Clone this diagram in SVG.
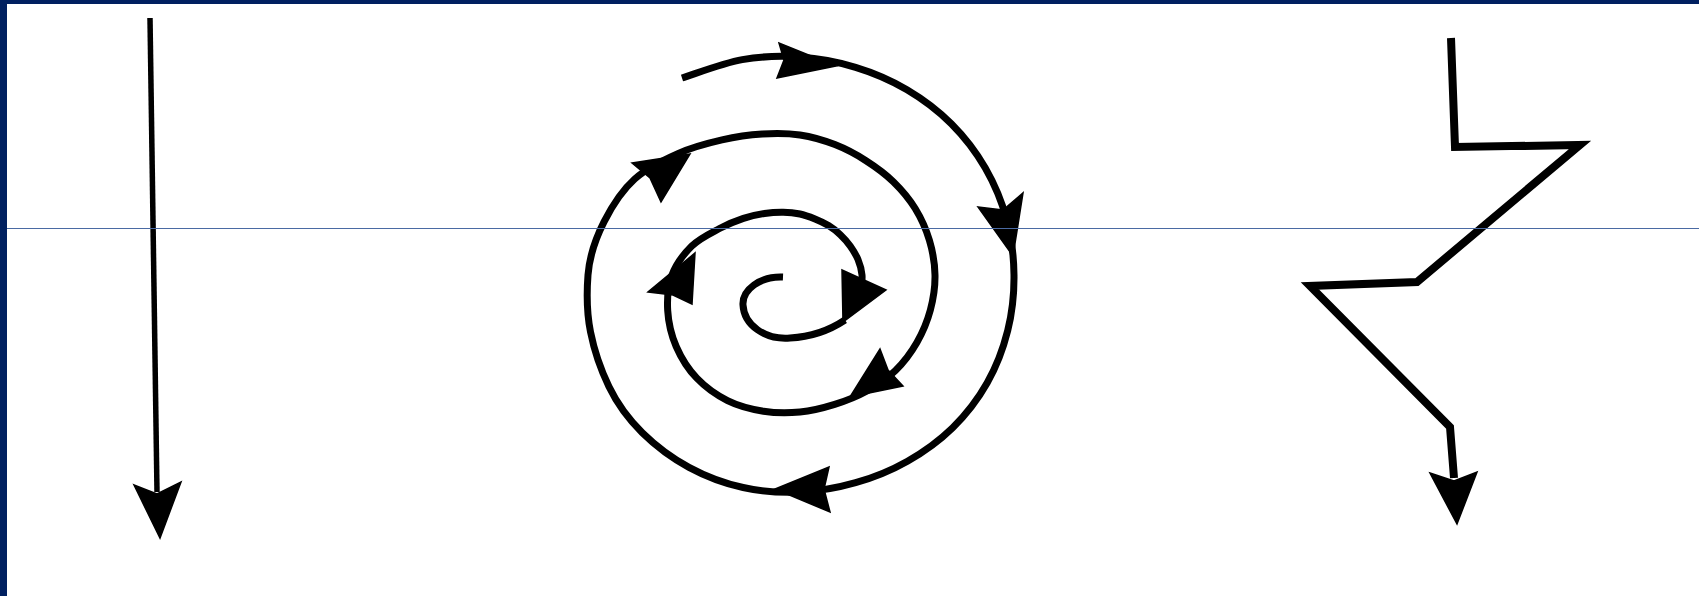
<svg xmlns="http://www.w3.org/2000/svg" width="1699" height="596" viewBox="0 0 1699 596">
<style>
.ln{fill:none;stroke:#000;stroke-linecap:butt}
.sp{stroke-width:7;stroke-linejoin:round}
.hd{fill:#000;stroke:#000;stroke-width:1.5;stroke-linejoin:miter}
</style>
<rect x="0" y="0" width="1699" height="596" fill="#fff"/>
<g id="frame">
<rect x="0" y="0" width="1699" height="4" fill="#002060"/>
<rect x="0" y="0" width="7" height="596" fill="#002060"/>
</g>
<g id="straight-arrow">
<path class="ln" stroke-width="5.5" d="M150,18 L157,492"/>
<polygon class="hd" points="134,485 157,494 181,482 160,538"/>
</g>
<g id="spiral-arrow">
<path class="ln sp" d="M682,78 C695,73.9 723.2,62.9 742.3,59.6 S781.1,55.7 800,57 S837.8,61.9 855.6,67.3 S891.1,80.3 907,89.7 S938.3,110.7 951.3,123.7 S976.1,152 985.3,168 S1001.9,201.8 1006.7,219.6 S1013.8,256.5 1014,275 S1012.2,312.6 1007.7,330.6 S996.3,366.8 987.1,383 S966,414.7 952.7,427.7 S923.7,452 907.5,461.2 S873.5,477.6 855.6,482.7 S818.8,491.2 800,492 S761.6,491.6 743.1,487.5 S705.8,476.4 689,467.3 S656,446.2 642.3,432.7 S617,403.3 608.9,386.5 S594.2,350.5 590.5,331.9 S586.6,293.3 588,275 S595.9,237.9 604,221.9 S622,190.4 634.7,179 S663.7,159.9 678.4,153.4 S708,143.1 722,139.9 S749.2,134.8 762.2,134 S787.9,133.2 800,135 S823.9,140.3 834.9,144.6 S856.3,154.5 866,160.7 S885.1,173.7 893.3,181.7 S909.2,198.7 915.2,208.5 S926.1,229.2 929.4,240.3 S934.8,263.4 935,275 S933.4,298.7 930.4,309.9 S922.7,332.4 916.9,342.5 S903.8,362.4 895.5,370.5 S877.1,385.4 867,391 S845.9,400.9 834.7,404.4 S811.9,410.9 800,412 S775.6,413.1 763.5,411.2 S738.6,406.1 727.5,400.6 S705.4,387.2 696.8,378.2 S681.1,357.8 676.2,346.5 S668.4,322.4 667.7,310.5 S668,285.8 672,275 S683.9,253.8 691.8,246 S710.9,233.1 719.5,228.5 S735.9,220.9 743.4,218.4 S757.9,214.5 764.5,213.5 S777.3,212.1 783.2,212.2 S794.7,212.9 800,214 S810.3,217.1 815,219 S824.3,223 828.5,225.6 S836.7,231.3 840.3,234.7 S847.3,241.9 850.2,246 S856,254.7 858,259.5 S861.5,269.9 862,275 S861.2,287.5 861,290"/>
<path class="ln sp" d="M783,277 C760,276 742,290 743,305 C744,325 765,340 790,338 C810,337 830,330 845,320"/>
<polygon class="hd" points="779,43 784,60 777,78 836,66"/>
<polygon class="hd" points="978,207 1003,210 1023,193 1013,256"/>
<polygon class="hd" points="829,467 824,489 830,512 775,489"/>
<polygon class="hd" points="632,163 650,178 661,202 690,154"/>
<polygon class="hd" points="880,349 888,370 903,386 850,397"/>
<polygon class="hd" points="648,292 673,295 692,304 695,253"/>
<polygon class="hd" points="842,270 886,290 843,322"/>
</g>
<g id="zigzag-arrow">
<polyline class="ln" stroke-width="8" stroke-linejoin="miter" stroke-miterlimit="10" points="1451,38 1455,147 1580,145 1417,282 1310,286 1450,427 1454,478"/>
<polygon class="hd" points="1430,473 1454,481 1477,472 1457,524"/>
</g>
<line x1="7" y1="228.5" x2="1699" y2="228.5" stroke="#4a6aa3" stroke-width="1"/>
</svg>
